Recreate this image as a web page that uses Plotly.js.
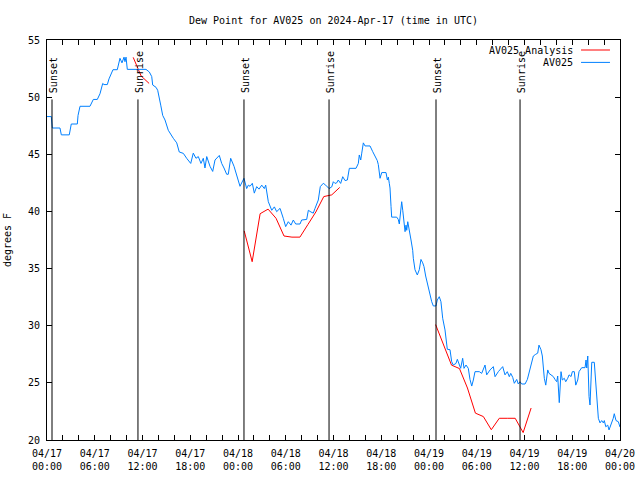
<!DOCTYPE html>
<html>
<head>
<meta charset="utf-8">
<script src="https://cdn.plot.ly/plotly-3.0.1.min.js"></script>
<style>html,body{margin:0;padding:0;background:#fff;}#chart{width:640px;height:480px;}</style>
</head>
<body>
<div id="chart"></div>
<script>
// Hours since 2024-04-17 00:00 UTC
const blueHours = [0.0,0.54,0.67,1.63,1.8,2.8,3.05,3.81,3.9,4.15,
5.4,5.82,6.32,6.66,7.0,7.16,7.58,7.79,8.29,8.83,
9.17,9.42,9.68,9.8,9.93,10.09,12.44,12.86,13.16,13.28,
13.7,13.91,14.29,14.54,14.83,15.24,15.87,16.3,16.62,17.13,
17.55,18.06,18.38,18.72,19.01,19.35,19.64,19.85,20.07,20.48,
20.82,21.11,21.65,21.95,22.24,22.58,22.78,23.08,23.5,23.84,
24.25,24.75,25.09,25.3,25.51,25.8,26.05,26.35,26.64,26.98,
27.31,27.48,27.81,28.24,28.57,28.86,29.28,29.69,29.99,30.32,
30.66,30.95,31.25,31.79,32.0,32.63,32.84,33.17,33.46,33.68,
34.09,34.34,34.72,35.02,35.44,35.78,35.98,36.19,36.4,36.6,
36.9,37.16,37.45,37.74,37.99,38.83,39.12,39.24,39.42,39.55,
39.75,39.96,40.59,40.93,41.22,41.5,41.63,41.76,41.85,42.06,
42.6,42.77,42.89,43.01,43.1,43.23,43.31,43.94,44.14,44.27,
44.45,44.57,44.7,44.86,44.99,45.11,45.2,45.33,45.53,45.74,
45.95,46.03,46.24,46.53,46.78,46.99,47.21,47.37,47.58,47.79,
48.04,48.34,48.54,48.88,49.04,49.29,49.5,49.72,50.01,50.14,
50.3,50.64,50.85,51.05,51.39,51.56,51.81,51.98,52.23,52.4,
52.65,52.81,52.94,53.15,53.37,53.57,53.78,54.32,54.62,55.04,
55.25,55.67,56.08,56.3,56.71,57.26,57.55,57.84,58.09,58.27,
58.52,58.72,59.02,59.22,59.44,59.65,60.07,60.36,60.57,60.82,
61.11,61.41,61.66,61.82,62.07,62.24,62.36,62.49,62.67,62.79,
62.92,63.08,63.33,63.62,63.83,64.05,64.17,64.25,64.37,64.59,
64.75,65.0,65.18,65.43,65.6,65.85,66.01,66.26,66.44,66.69,
66.85,67.19,67.61,67.73,67.82,67.95,68.02,68.11,68.23,68.36,
68.45,68.77,68.86,68.99,69.15,69.28,69.49,69.7,69.9,70.03,
70.21,70.46,70.62,70.87,71.15,71.28,71.5,71.79,72.0];

const blueValues = [48.3,48.3,47.3,47.3,46.7,46.7,47.65,47.65,48.4,49.2,
49.2,49.8,49.8,50.3,51.2,51.1,51.1,51.6,52.4,52.4,
53.4,53.0,53.5,53.1,53.5,52.43,52.43,52.2,51.8,51.06,
50.86,50.6,49.3,48.4,48.0,47.1,46.4,46.0,45.2,45.08,
44.65,44.2,45.1,44.65,44.8,44.2,44.65,43.8,44.8,43.95,
43.5,44.5,44.9,44.2,43.8,43.25,43.25,44.65,43.95,43.2,
42.2,42.9,42.0,42.3,42.2,42.46,41.6,42.17,41.95,42.3,
42.0,42.3,40.85,40.1,40.4,39.98,40.27,39.4,38.67,39.1,
38.8,39.25,38.9,38.9,39.25,39.3,40.1,39.95,39.85,40.27,
41.0,42.17,42.46,42.3,42.0,42.15,42.6,42.45,42.5,42.75,
42.45,43.04,42.7,42.75,43.77,43.77,44.2,44.94,44.5,45.1,
46.0,45.73,45.73,45.23,44.8,44.45,44.1,43.04,42.9,43.4,
43.4,42.75,43.0,42.46,42.05,40.42,39.5,39.5,39.3,38.9,
40.27,40.85,40.1,38.96,38.23,38.8,38.35,39.1,38.1,37.5,
36.6,35.9,34.9,34.44,34.9,35.8,35.5,35.17,34.35,33.65,
32.83,32.1,31.73,31.73,32.25,32.54,32.1,30.65,29.63,28.6,
27.94,27.9,26.85,26.56,26.7,27.06,26.5,26.27,27.15,26.27,
26.56,26.4,26.27,25.3,24.72,25.25,25.98,25.98,25.83,26.56,
25.7,26.13,26.42,25.54,25.98,26.42,25.7,25.98,25.54,25.83,
25.48,24.96,25.3,24.9,25.1,24.9,24.9,25.3,25.83,26.7,
27.35,27.5,27.6,28.3,27.9,27.35,26.42,25.4,24.8,25.55,
26.13,25.83,25.7,25.55,25.3,25.1,25.6,24.23,23.27,25.98,
25.25,25.4,25.1,25.4,25.7,25.55,25.98,25.98,24.8,25.25,
25.98,26.33,26.33,27.0,26.3,27.35,25.5,23.8,23.06,24.8,
26.8,26.8,25.83,24.23,22.6,21.9,21.5,21.7,21.5,21.7,
21.16,21.3,20.88,21.3,21.9,22.3,21.7,21.6,21.13];

// Analysis series (null breaks the line between segments)
const redHours = [10.83,11.83,12.83, 18.0,
24.78,25.78,26.78,27.78,28.78,29.78,30.78,31.78,32.78,33.78,34.78,35.78,36.78, 42.0,
48.83,49.83,50.83,51.83,52.83,53.83,54.83,55.83,56.83,57.83,58.83,59.83,60.83];
const redValues = [53.48,51.85,51.2, null,
38.3,35.6,39.8,40.2,39.4,37.85,37.75,37.75,38.85,39.95,41.3,41.45,42.1, null,
30.1,28.3,26.55,26.25,24.55,22.35,22.05,20.9,21.9,21.9,21.9,20.65,22.8];

const eventHours = [0.63, 11.43, 24.75, 35.44, 48.88, 59.44];
const eventLabels = ['Sunset','Sunrise','Sunset','Sunrise','Sunset','Sunrise'];

const seriesNames = ['AV025 Analysis', 'AV025'];
const seriesColors = ['#ff0000', '#0080ff'];
const titleText = 'Dew Point for AV025 on 2024-Apr-17 (time in UTC)';
const yTitle = 'degrees F';

function pad(n){ return String(n).padStart(2,'0'); }
function toDate(h){
  const d = new Date(Date.UTC(2024,3,17) + Math.round(h*3600000));
  return d.getUTCFullYear()+'-'+pad(d.getUTCMonth()+1)+'-'+pad(d.getUTCDate())+' '+
         pad(d.getUTCHours())+':'+pad(d.getUTCMinutes())+':'+pad(d.getUTCSeconds());
}

const traces = [
  {x: redHours.map(toDate), y: redValues, type:'scatter', mode:'lines', name: seriesNames[0],
   line:{color: seriesColors[0], width:1}, connectgaps:false},
  {x: blueHours.map(toDate), y: blueValues, type:'scatter', mode:'lines', name: seriesNames[1],
   line:{color: seriesColors[1], width:1}}
];

const shapes = eventHours.map(h => ({type:'line', xref:'x', yref:'y', x0:toDate(h), x1:toDate(h),
  y0:20, y1:49.8, line:{color:'#000', width:1}, layer:'above'}));
const annotations = eventHours.map((h,i) => ({xref:'x', yref:'y', x:toDate(h), y:50, text:eventLabels[i],
  textangle:-90, showarrow:false, xanchor:'center', yanchor:'bottom', yshift:2, xshift:1,
  font:{family:'DejaVu Sans Mono', size:10, color:'#000'}}));

// legend drawn gnuplot-style: text right-aligned, sample to the right
const legY = [0.975, 0.944];
seriesNames.forEach((nm,i) => {
  annotations.push({xref:'paper', yref:'paper', x:0.9215, y:legY[i], text:nm, showarrow:false,
    xanchor:'right', yanchor:'middle', font:{family:'DejaVu Sans Mono', size:10, color:'#000'}});
  shapes.push({type:'line', xref:'paper', yref:'paper', x0:0.932, x1:0.9825, y0:legY[i], y1:legY[i],
    line:{color:seriesColors[i], width:1}, layer:'above'});
});

const axisCommon = {ticks:'inside', ticklen:5, tickwidth:1, tickcolor:'#000', mirror:'allticks',
  showline:true, linecolor:'#000', linewidth:1, showgrid:false, zeroline:false,
  tickfont:{family:'DejaVu Sans Mono', size:10, color:'#000'}};

const layout = {
  width:640, height:480,
  margin:{l:47, r:20, t:40, b:40, pad:0},
  paper_bgcolor:'#fff', plot_bgcolor:'#fff',
  font:{family:'DejaVu Sans Mono', size:10, color:'#000'},
  showlegend:false,
  title:{text:titleText, x:0.5, xref:'paper', y:1-20/480, yref:'container', yanchor:'middle',
    font:{family:'DejaVu Sans Mono', size:10, color:'#000'}},
  xaxis: Object.assign({}, axisCommon, {type:'date', range:[toDate(0), toDate(72)],
    tick0: toDate(0), dtick: 6*3600000, tickformat:'%m/%d<br>%H:%M', ticklabelstandoff:4,
    minor:{dtick:2*3600000, ticks:'inside', ticklen:5, tickcolor:'#000', showgrid:false}}),
  yaxis: Object.assign({}, axisCommon, {range:[20,55], dtick:5, tick0:20, ticklabelstandoff:4,
    title:{text:yTitle, standoff:14, font:{family:'DejaVu Sans Mono', size:10, color:'#000'}}}),
  shapes: shapes,
  annotations: annotations
};

Plotly.newPlot('chart', traces, layout, {displayModeBar:false, staticPlot:true});
</script>
</body>
</html>
